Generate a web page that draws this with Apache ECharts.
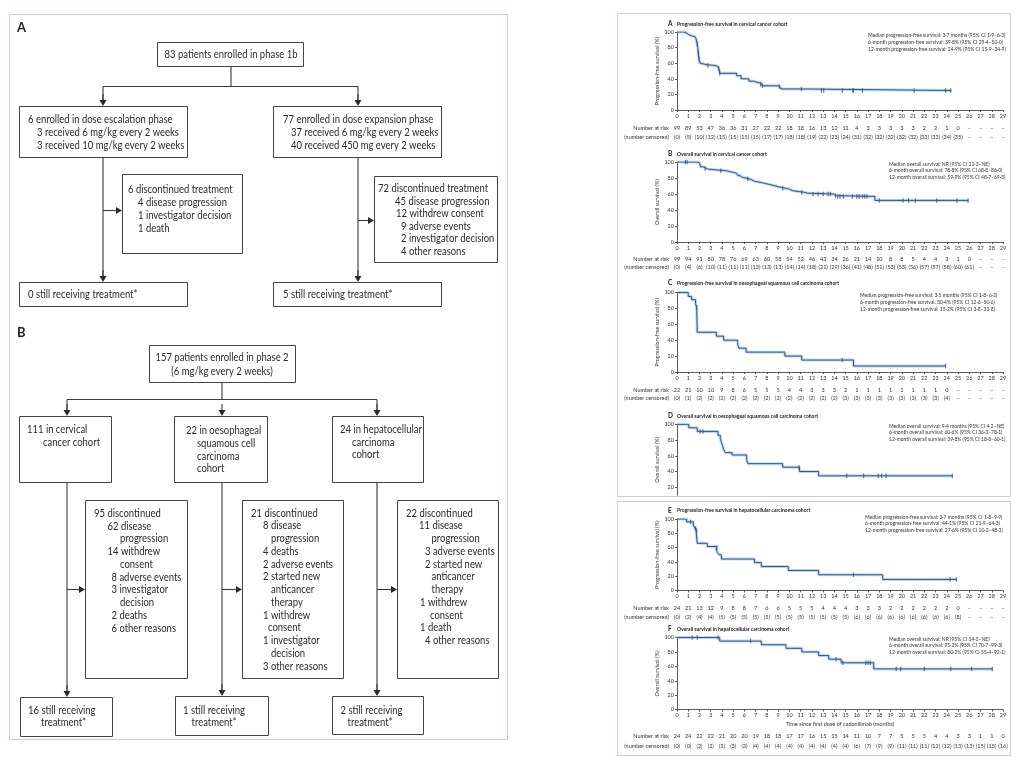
<!DOCTYPE html>
<html>
<head>
<meta charset="utf-8">
<script src="https://cdn.jsdelivr.net/npm/echarts@6/dist/echarts.min.js"></script>
<style>
  html, body { margin: 0; padding: 0; background: #fff; }
  #main { width: 1024px; height: 757px; }
</style>
</head>
<body>
<div id="main"></div>
<script>
// ---------- Kaplan-Meier curves: [months, %] step points ----------
const pfsCervical = [[0,100],[0.6,99],[0.8,97],[1.0,95],[1.3,94],[1.6,93],[1.7,91],[1.75,88],[1.8,84],[1.85,80],[1.9,73],[1.95,66],[2.05,60],[2.2,58],[2.7,57],[3.4,56],[3.6,55],[3.7,54],[3.75,52],[3.8,47],[5.3,44],[5.7,40],[6.4,37],[6.8,36],[7.0,35],[7.3,34],[7.5,32],[7.6,31],[9.1,29],[9.25,27],[11.1,26],[11.2,25],[24.4,25]]
const pfsCervicalCens = [[1.8,85],[1.9,73],[1.95,66],[2.75,57],[3.72,53],[3.8,47],[7.45,33],[7.6,31],[9.1,30],[11.05,27],[12.85,25],[13.05,25],[14.7,25],[15.65,25],[15.7,25],[16.5,25],[21.1,25],[23.9,25],[24.35,25]]

const osCervical = [[0,100],[1.7,99],[2.0,97],[2.1,94],[2.3,92],[2.6,91],[2.8,89],[4.4,88],[4.7,87],[5.0,86],[5.3,85],[5.4,83],[5.6,81],[5.8,79],[6.4,78],[6.6,76],[6.9,74],[7.6,73],[7.9,72],[8.2,71],[8.5,69],[9.0,68],[9.4,67],[9.7,66],[10.0,64],[10.3,63],[10.9,62],[11.4,61],[11.6,60],[13.9,59],[14.0,58],[14.2,57],[17.6,52],[25.9,52]]
const osCervicalCens = [[0.75,100],[0.9,100],[2.5,92],[3.9,89],[6.3,79],[9.4,67],[11.1,62],[12.1,60],[12.55,60],[13.0,60],[13.45,60],[13.65,60],[14.1,58],[14.3,57],[14.5,57],[14.8,57],[15.6,57],[16.0,57],[16.2,57],[16.5,57],[16.7,57],[16.9,57],[18.0,52],[20.1,52],[20.6,52],[21.2,52],[23.1,52],[24.9,52],[25.9,52]]

const pfsOesoph = [[0,100],[1.0,95],[1.3,91],[1.65,86],[1.75,81],[1.8,50],[3.5,45],[4.15,40],[5.4,35],[5.5,30],[6.15,25],[9.6,20],[11.1,15],[15.7,7.5],[23.9,7.5]]
const pfsOesophCens = [[1.75,81],[14.7,15],[23.9,7.5]]

const osOesoph = [[0,100],[1.05,95.5],[1.8,91],[3.65,86],[3.85,82],[3.95,77],[4.05,73],[4.15,68],[4.3,64],[4.9,61],[6.2,55],[6.3,50],[9.4,45.5],[10.9,40],[12.6,34.5],[24.5,34.5]]
const osOesophCens = [[2.05,91],[2.3,91],[10.85,45.5],[15.1,34.5],[16.6,34.5],[17.9,34.5],[18.2,34.5],[18.6,34.5],[24.5,34.5]]

const pfsHcc = [[0,100],[0.85,96],[1.45,91.5],[1.6,87],[1.7,83],[1.8,66],[2.7,61.5],[3.5,57],[3.6,53],[3.75,50],[3.95,44],[6.9,39],[7.5,33.5],[9.9,28],[12.6,22],[18.3,15.5],[24.85,15.5]]
const pfsHccCens = [[1.2,96],[1.65,87],[1.75,84],[3.55,60],[15.7,22],[24.3,15.5],[24.85,15.5]]

const osHcc = [[0,100],[3.8,95],[7.5,90],[9.7,85],[11.1,80],[12.6,75],[13.5,70],[14.6,65],[17.5,56.5],[28.05,56.5]]
const osHccCens = [[1.35,100],[1.8,100],[3.65,100],[6.55,95],[14.15,70],[14.75,65],[16.8,65],[17.0,65],[17.2,65],[19.5,56.5],[19.9,56.5],[22,56.5],[24.35,56.5],[26.2,56.5],[28.05,56.5]]

// ---------- numbers at risk / censored, month 0,1,2,... ----------
const riskA = [99,89,53,47,36,36,31,27,22,22,18,18,16,13,12,11,4,3,3,3,3,3,2,2,1,0]
const censA = [0,5,10,12,15,15,15,15,17,17,18,18,19,22,23,24,31,32,32,32,32,32,33,33,34,35]
const riskB = [99,94,91,80,78,76,69,63,60,58,54,52,46,43,34,26,21,14,10,8,8,5,4,4,3,1,0]
const censB = [0,4,6,10,11,11,11,13,13,13,14,14,18,21,29,36,41,48,51,53,53,56,57,57,58,60,61]
const riskC = [22,21,10,10,9,8,6,5,5,5,4,4,3,3,3,2,1,1,1,1,1,1,1,1,0]
const censC = [0,1,2,2,2,2,2,2,2,2,2,2,2,2,2,3,3,3,3,3,3,3,3,3,4]
const riskE = [24,21,13,12,9,8,8,7,6,6,5,5,5,4,4,4,3,3,3,2,2,2,2,2,2,0]
const censE = [0,2,4,4,5,5,5,5,5,5,5,5,5,5,5,5,6,6,6,6,6,6,6,6,6,8]
const riskF = [24,24,22,22,21,20,20,19,18,18,17,17,16,15,15,14,11,10,7,7,5,5,5,4,4,3,3,1,1,0]
const censF = [0,0,2,2,3,3,3,4,4,4,4,4,4,4,4,4,6,7,9,9,11,11,11,12,12,13,13,15,15,16]

// ---------- texts ----------
const titles = [
  'Progression-free survival in cervical cancer cohort',
  'Overall survival in cervical cancer cohort',
  'Progression-free survival in oesophageal squamous cell carcinoma cohort',
  'Overall survival in oesophageal squamous cell carcinoma cohort',
  'Progression-free survival in hepatocellular carcinoma cohort',
  'Overall survival in hepatocellular carcinoma cohort'
]
const stats = [
  ['Median progression-free survival: 3·7 months (95% CI 1·9–6·3)', '6-month progression-free survival: 39·8% (95% CI 29·4–50·0)', '12-month progression-free survival: 24·9% (95% CI 15·9–34·9)'],
  ['Median overall survival: NR (95% CI 11·3–NE)', '6-month overall survival: 78·8% (95% CI 68·8–86·0)', '12-month overall survival: 59·9% (95% CI 48·7–69·3)'],
  ['Median progression-free survival: 3·5 months (95% CI 1·8–6·2)', '6-month progression-free survival: 30·4% (95% CI 12·6–50·6)', '12-month progression-free survival: 15·2% (95% CI 3·8–33·8)'],
  ['Median overall survival: 9·4 months (95% CI 4·2–NE)', '6-month overall survival: 60·6% (95% CI 36·3–78·1)', '12-month overall survival: 39·8% (95% CI 18·8–60·1)'],
  ['Median progression-free survival: 3·7 months (95% CI 1·8–9·9)', '6-month progression-free survival: 44·1% (95% CI 21·9–64·3)', '12-month progression-free survival: 27·6% (95% CI 10·2–48·3)'],
  ['Median overall survival: NR (95% CI 14·5–NE)', '6-month overall survival: 95·2% (95% CI 70·7–99·3)', '12-month overall survival: 80·2% (95% CI 55·4–92·1)']
]
const pfsName = 'Progression-free survival (%)'
const osName = 'Overall survival (%)'

// panel layout (pixels)
const panels = [
  { letter: 'A', curve: pfsCervical, cens: pfsCervicalCens, risk: riskA, nc: censA, yName: pfsName, titleY: 24, top: 32, y0: 110, riskOff: 18, censOff: 27.5, statsX: 868, statsY: 35.5 },
  { letter: 'B', curve: osCervical, cens: osCervicalCens, risk: riskB, nc: censB, yName: osName, titleY: 154, top: 162, y0: 242, riskOff: 17, censOff: 25.5, statsX: 889, statsY: 164 },
  { letter: 'C', curve: pfsOesoph, cens: pfsOesophCens, risk: riskC, nc: censC, yName: pfsName, titleY: 283, top: 292.5, y0: 372, riskOff: 18.7, censOff: 26.7, statsX: 860, statsY: 295.5 },
  { letter: 'D', curve: osOesoph, cens: osOesophCens, risk: null, nc: null, yName: osName, titleY: 416, top: 424.3, y0: 503, yMin: 10, statsX: 889, statsY: 426 },
  { letter: 'E', curve: pfsHcc, cens: pfsHccCens, risk: riskE, nc: censE, yName: pfsName, titleY: 510.7, top: 519, y0: 590.5, riskOff: 18.2, censOff: 26.8, statsX: 865, statsY: 517 },
  { letter: 'F', curve: osHcc, cens: osHccCens, risk: riskF, nc: censF, yName: osName, titleY: 629.3, top: 637.5, y0: 709.7, riskOff: 26.3, censOff: 37, statsX: 889, statsY: 639,
    xName: 'Time since first dose of cadonilimab (months)' }
]

const FONT = 'Lato'
const INK = '#333'
const BLUE = '#2b5a96'
const FRAME = '#e4c2ca'
const PLOT_L = 677, PLOT_R = 1003

const chart = echarts.init(document.getElementById('main'))

const els = []
function txt(s, x, y, size, opt) {
  opt = opt || {}
  return {
    type: 'text', x: x, y: y, z: 50, silent: true, scaleX: opt.sx || 1,
    style: {
      text: s, font: (opt.bold ? 'bold ' : '') + size + 'px ' + FONT, fill: opt.fill || INK,
      textAlign: opt.align || 'left', align: opt.align || 'left',
      textVerticalAlign: 'middle', verticalAlign: 'middle'
    }
  }
}
function box(x1, y1, x2, y2, stroke, z) {
  return { type: 'rect', z: z || 40, silent: true, shape: { x: x1 + 0.5, y: y1 + 0.5, width: x2 - x1, height: y2 - y1 },
    style: { fill: 'none', stroke: stroke, lineWidth: 1 } }
}
function seg(x1, y1, x2, y2) {
  return { type: 'line', z: 40, silent: true, shape: { x1: x1, y1: y1, x2: x2, y2: y2 }, style: { stroke: '#3a3a3a', lineWidth: 1.1 } }
}
function arrowDown(x, y) {
  els.push(seg(x, y - 12, x, y - 5))
  els.push({ type: 'polygon', z: 41, silent: true, shape: { points: [[x - 3.5, y - 6], [x + 3.5, y - 6], [x, y]] }, style: { fill: '#2a2a2a' } })
}
function arrowRight(x1, x2, y) {
  els.push(seg(x1, y, x2 - 5, y))
  els.push({ type: 'polygon', z: 41, silent: true, shape: { points: [[x2 - 6, y - 3.5], [x2 - 6, y + 3.5], [x2, y]] }, style: { fill: '#2a2a2a' } })
}

// ---------- flow diagram ----------
const FS = 11, SX = 0.86
const flowBoxes = [
  { r: [157, 42, 303, 66], lines: [['83 patients enrolled in phase 1b', 231, 54, 'center']] },
  { r: [19, 106, 187, 157], lines: [['6 enrolled in dose escalation phase', 28, 119], ['3 received 6 mg/kg every 2 weeks', 37, 132], ['3 received 10 mg/kg every 2 weeks', 37, 145]] },
  { r: [273, 106, 441, 157], lines: [['77 enrolled in dose expansion phase', 283, 119], ['37 received 6 mg/kg every 2 weeks', 291, 132], ['40 received 450 mg every 2 weeks', 291, 145]] },
  { r: [122, 174, 242, 253], lines: [['6 discontinued treatment', 128, 189], ['4 disease progression', 138, 202], ['1 investigator decision', 138, 215], ['1 death', 138, 228]] },
  { r: [374, 176, 497, 262], lines: [['72 discontinued treatment', 378, 188], ['45 disease progression', 395, 201], ['12 withdrew consent', 396, 213.5], ['9 adverse events', 401, 226], ['2 investigator decision', 401, 238.5], ['4 other reasons', 401, 251]] },
  { r: [19, 282, 187, 306], lines: [['0 still receiving treatment*', 28, 294.5]] },
  { r: [273, 282, 441, 306], lines: [['5 still receiving treatment*', 283, 294.5]] },

  { r: [149, 345, 295, 382], lines: [['157 patients enrolled in phase 2', 222, 357.7, 'center'], ['(6 mg/kg every 2 weeks)', 222, 371, 'center']] },
  { r: [19, 416, 111, 482], lines: [['111 in cervical', 27, 429.5], ['cancer cohort', 43, 442.5]] },
  { r: [174, 416, 267, 482], lines: [['22 in oesophageal', 186, 430], ['squamous cell', 197, 443], ['carcinoma', 197, 456], ['cohort', 197, 468.5]] },
  { r: [332, 416, 423, 482], lines: [['24 in hepatocellular', 340, 429.5], ['carcinoma', 352, 442], ['cohort', 352, 454.5]] },
  { r: [85, 500, 187, 678], start: 513.3, lines: [['95 discontinued', 94], ['62 disease', 107.5], ['progression', 120], ['14 withdrew', 107.5], ['consent', 120], ['8 adverse events', 111.5], ['3 investigator', 111.5], ['decision', 120], ['2 deaths', 111.5], ['6 other reasons', 111.5]] },
  { r: [242, 500, 343, 678], start: 513, lines: [['21 discontinued', 251], ['8 disease', 263], ['progression', 271], ['4 deaths', 263], ['2 adverse events', 263], ['2 started new', 263], ['anticancer', 271], ['therapy', 271], ['1 withdrew', 263], ['consent', 268], ['1 investigator', 263], ['decision', 271], ['3 other reasons', 263]] },
  { r: [397, 500, 498, 678], start: 513, lines: [['22 discontinued', 406], ['11 disease', 419], ['progression', 431.5], ['3 adverse events', 425], ['2 started new', 425], ['anticancer', 431.5], ['therapy', 431.5], ['1 withdrew', 420], ['consent', 430], ['1 death', 420], ['4 other reasons', 425]] },
  { r: [20, 697, 112, 736], lines: [['16 still receiving', 28, 710.5], ['treatment*', 41, 722.7]] },
  { r: [175, 696, 268, 735], lines: [['1 still receiving', 183, 710], ['treatment*', 191.5, 722.7]] },
  { r: [332, 696, 423, 734], lines: [['2 still receiving', 340.5, 710], ['treatment*', 347.5, 722]] }
]

flowBoxes.forEach(b => {
  els.push(box(b.r[0], b.r[1], b.r[2], b.r[3], '#444'))
  b.lines.forEach((l, k) => {
    const y = b.start ? b.start + k * 12.75 : l[2]
    const align = l[3] || 'left'
    els.push(txt(l[0], l[1], y, FS, { sx: SX, align: align, fill: '#2a2a2a' }))
  })
})

// connectors, panel A
els.push(seg(231, 66, 231, 86.5), seg(103, 86.5, 358, 86.5), seg(103, 86.5, 103, 100), seg(358, 86.5, 358, 100))
arrowDown(103, 106); arrowDown(358, 106)
els.push(seg(103, 157, 103, 276), seg(358, 157, 358, 276))
arrowDown(103, 282); arrowDown(358, 282)
arrowRight(103, 122, 210.5); arrowRight(358, 374, 220.5)
// connectors, panel B
els.push(seg(222, 382, 222, 399.5), seg(67, 399.5, 377, 399.5), seg(67, 399.5, 67, 410), seg(377, 399.5, 377, 410))
arrowDown(67, 416); arrowDown(222, 416); arrowDown(377, 416)
els.push(seg(67, 482, 67, 691), seg(222, 482, 222, 690), seg(377, 482, 377, 690))
arrowDown(67, 697); arrowDown(222, 696); arrowDown(377, 696)
arrowRight(67, 85, 589.5); arrowRight(222, 242, 589.5); arrowRight(377, 397, 589.5)

els.push(txt('A', 17, 28, 13, { bold: true, fill: '#222' }))
els.push(txt('B', 17, 333, 13, { bold: true, fill: '#222' }))

// frames
els.push(box(9, 14, 507, 739, FRAME, 60))
els.push(box(617, 13, 1010, 496, FRAME, 60))
els.push(box(617, 501, 1010, 755, FRAME, 60))

// ---------- KM panels ----------
const grids = [], xAxes = [], yAxes = [], series = []
const axisFont = { fontSize: 5.5, fontFamily: FONT, color: INK }

panels.forEach((p, i) => {
  const yMin = p.yMin || 0
  const yBottom = p.y0 - (p.y0 - p.top) * yMin / 100
  grids.push({ left: PLOT_L, width: PLOT_R - PLOT_L, top: p.top, height: yBottom - p.top, outerBoundsMode: 'none' })
  xAxes.push({
    gridIndex: i, type: 'value', min: 0, max: 29, interval: 1, show: !p.yMin,
    axisLine: { onZero: false, lineStyle: { color: INK, width: 0.8 } },
    axisTick: { length: 2, lineStyle: { color: INK, width: 0.8 } },
    axisLabel: Object.assign({ margin: 3 }, axisFont),
    splitLine: { show: false },
    name: p.xName || '', nameLocation: 'middle', nameGap: 11.5,
    nameTextStyle: { fontSize: 5.5, fontFamily: FONT, color: INK }
  })
  const tickVals = [20, 40, 60, 80, 100]
  yAxes.push({
    gridIndex: i, type: 'value', min: yMin, max: 100,
    interval: yMin ? undefined : 20,
    axisLine: { show: true, lineStyle: { color: INK, width: 0.8 } },
    axisTick: yMin ? { show: true, length: 2, customValues: tickVals, lineStyle: { color: INK, width: 0.8 } }
                   : { show: true, length: 2, lineStyle: { color: INK, width: 0.8 } },
    axisLabel: yMin ? Object.assign({ margin: 3, customValues: tickVals }, axisFont) : Object.assign({ margin: 3 }, axisFont),
    splitLine: { show: false },
    name: p.yName, nameLocation: 'middle', nameGap: 14,
    nameTextStyle: { fontSize: 5.5, fontFamily: FONT, color: INK }
  })
  series.push({ type: 'line', xAxisIndex: i, yAxisIndex: i, data: p.curve, step: 'end', showSymbol: false, silent: true, z: 2,
    lineStyle: { color: 'rgba(120,160,212,0.45)', width: 3 } })
  series.push({ type: 'line', xAxisIndex: i, yAxisIndex: i, data: p.curve, step: 'end', showSymbol: false, silent: true, z: 3,
    lineStyle: { color: BLUE, width: 1 } })
  series.push({ type: 'scatter', xAxisIndex: i, yAxisIndex: i, data: p.cens, symbol: 'rect', symbolSize: [1.2, 4.5], silent: true, z: 4,
    itemStyle: { color: BLUE } })

  els.push(txt(p.letter, 668, p.titleY, 6.5, { bold: true, fill: '#222' }))
  els.push(txt(titles[i], 677, p.titleY, 5, { bold: true, fill: '#222' }))
  stats[i].forEach((s, k) => els.push(txt(s, p.statsX, p.statsY + k * 6.8, 5)))
})

// rows of numbers at risk drawn as extra bottom axes
function riskRow(gi, arr, wrap, offset, label) {
  xAxes.push({
    gridIndex: gi, type: 'value', min: 0, max: 29, interval: 1, position: 'bottom', offset: offset,
    axisLine: { show: false, onZero: false }, axisTick: { show: false }, splitLine: { show: false },
    axisLabel: Object.assign({ margin: 0, verticalAlign: 'middle',
      formatter: v => { const k = Math.round(v); return k < arr.length ? wrap(arr[k]) : '–' } }, axisFont),
    name: label, nameLocation: 'start', nameGap: 8,
    nameTextStyle: { fontSize: 5.5, fontFamily: FONT, color: INK, align: 'right', verticalAlign: 'middle' }
  })
}
panels.forEach((p, i) => {
  if (!p.risk) return
  riskRow(i, p.risk, n => String(n), p.riskOff, 'Number at risk')
  riskRow(i, p.nc, n => '(' + n + ')', p.censOff, '(number censored)')
})

chart.setOption({
  animation: false,
  backgroundColor: '#fff',
  grid: grids,
  xAxis: xAxes,
  yAxis: yAxes,
  series: series,
  graphic: { elements: els }
})
</script>
</body>
</html>
